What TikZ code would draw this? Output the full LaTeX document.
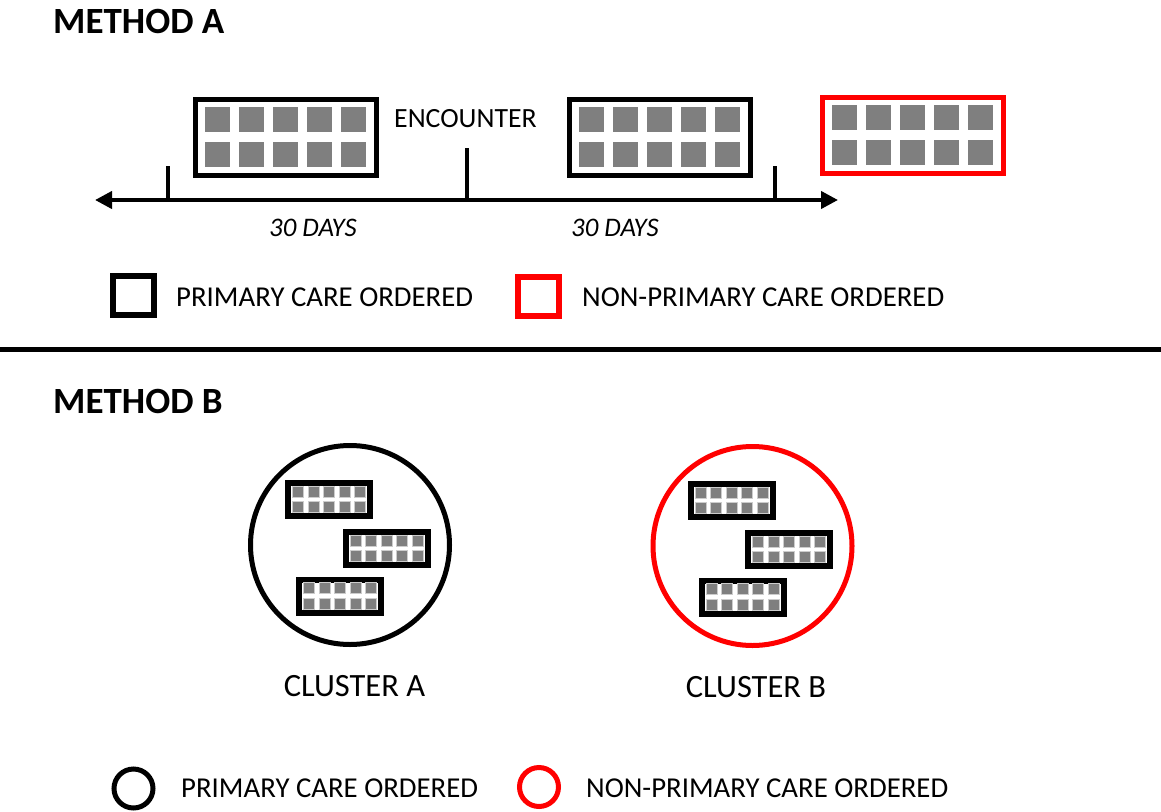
\documentclass[tikz,border=0pt]{standalone}
\usepackage{fontspec}
\setmainfont{Carlito}
\usetikzlibrary{arrows.meta}
\definecolor{cellgrey}{HTML}{7F7F7F}
\definecolor{ordred}{HTML}{FF0000}

\tikzset{
  lbl/.style={inner sep=0pt, anchor=base west, font=\fontsize{28.8}{30}\selectfont},
  heading/.style={inner sep=0pt, anchor=base west, font=\fontsize{37}{39}\selectfont\bfseries},
  days/.style={inner sep=0pt, anchor=base west, font=\fontsize{26.8}{28}\selectfont\itshape},
  clusterlbl/.style={inner sep=0pt, anchor=base, font=\fontsize{32.5}{34}\selectfont},
  tline/.style={line width=4pt},
  cluster/.style={circle, draw=#1, line width=5pt, minimum size=199pt, inner sep=0pt},
  legsq/.style={draw=#1, line width=6pt, minimum width=41pt, minimum height=39pt, inner sep=0pt},
  legcirc/.style={circle, draw=#1, line width=5pt, minimum size=39pt, inner sep=0pt},
  % a record of orders: framed 5 x 2 grid of cells
  pics/encbig/.style={code={
    \coordinate (-c) at (0,0);
    \draw[line width=5pt, draw=#1] (-90.5,-38) rectangle (90.5,38);
    \foreach \i in {0,...,4}{\foreach \j in {0,1}{
      \fill[cellgrey] ({-81+34*\i},{-30.5+35*\j}) rectangle ++(25,25);}}
  }},
  pics/encsmall/.style={code={
    \coordinate (-c) at (0,0);
    \draw[line width=6pt] (-41,-16.5) rectangle (41,16.5);
    \foreach \i in {0,...,4}{\foreach \j in {0,1}{
      \filldraw[fill=cellgrey, draw=gray!40, line width=0.8pt]
        ({-36.5+15.5*\i},{-13.25+15.5*\j}) rectangle ++(11,11);}}
  }},
}

\begin{document}
\begin{tikzpicture}[x=1pt, y=-1pt]
\useasboundingbox (0,0) rectangle (1161,811);

% ---------- Method A ----------
\node[heading] (hA) at (53,33) {METHOD A};

\pic (rec1) at (286,137.5) {encbig=black};
\pic (rec2) at (660,137.5) {encbig=black};
\pic (rec3) at (913,135) {encbig=ordred};
\node[inner sep=0pt, anchor=base west, font=\fontsize{27.8}{29}\selectfont] (enc) at (394,127) {ENCOUNTER};

% timeline with ticks
\coordinate (tl) at (95,200);
\coordinate (tr) at (838,200);
\draw[tline, {Triangle[length=17pt,width=17pt]}-{Triangle[length=17pt,width=17pt]}] (tl) -- (tr);
\coordinate (t1a) at (168,166); \coordinate (t1b) at (168,200);
\coordinate (t2a) at (467,148); \coordinate (t2b) at (467,200);
\coordinate (t3a) at (775,166); \coordinate (t3b) at (775,200);
\draw[tline] (t1a) -- (t1b);
\draw[tline] (t2a) -- (t2b);
\draw[tline] (t3a) -- (t3b);

\node[days] (d1) at (269,236) {30 DAYS};
\node[days] (d2) at (571,236) {30 DAYS};

% legend A
\node[legsq=black] (lsq1) at (133.5,295.5) {};
\node[lbl] (ltx1) at (176,306) {PRIMARY CARE ORDERED};
\node[legsq=ordred] (lsq2) at (538.5,296.5) {};
\node[lbl] (ltx2) at (582,306) {NON-PRIMARY CARE ORDERED};

% divider
\coordinate (dl) at (0,349);
\coordinate (dr) at (1161,349);
\draw[line width=5pt] (dl) -- (dr);

% ---------- Method B ----------
\node[heading] (hB) at (53,413) {METHOD B};

\node[cluster=black] (clA) at (350,545) {};
\node[cluster=ordred] (clB) at (752.5,546) {};
\foreach \c in {clA,clB}{
  \pic (\c-r1) at ([shift={(-21,-45.5)}]\c) {encsmall};
  \pic (\c-r2) at ([shift={(36.5,3.5)}]\c) {encsmall};
  \pic (\c-r3) at ([shift={(-10,51)}]\c) {encsmall};
}
\node[clusterlbl] (cA) at (354.5,696) {CLUSTER A};
\node[clusterlbl] (cB) at (756,697) {CLUSTER B};

% legend B
\node[legcirc=black] (lc1) at (133.5,788.5) {};
\node[lbl] (lct1) at (181,797) {PRIMARY CARE ORDERED};
\node[legcirc=ordred] (lc2) at (539,787) {};
\node[lbl] (lct2) at (586,797) {NON-PRIMARY CARE ORDERED};
\end{tikzpicture}
\end{document}
